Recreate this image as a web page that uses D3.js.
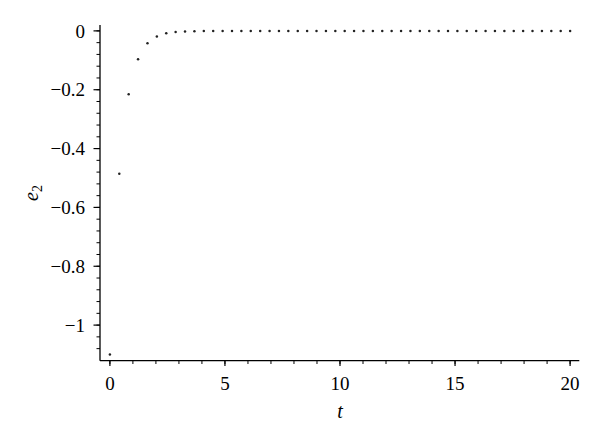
<!DOCTYPE html>
<html>
<head>
<meta charset="utf-8">
<script src="https://cdn.jsdelivr.net/npm/d3@7"></script>
<style>
  body { margin: 0; background: #fff; }
</style>
</head>
<body>
<div id="chart"></div>
<script>
// sampled time points (50 samples from 0 to 20)
var tValues = [0, 0.408, 0.816, 1.224, 1.633, 2.041, 2.449, 2.857, 3.265, 3.673,
  4.082, 4.490, 4.898, 5.306, 5.714, 6.122, 6.531, 6.939, 7.347, 7.755,
  8.163, 8.571, 8.980, 9.388, 9.796, 10.204, 10.612, 11.020, 11.429, 11.837,
  12.245, 12.653, 13.061, 13.469, 13.878, 14.286, 14.694, 15.102, 15.510, 15.918,
  16.327, 16.735, 17.143, 17.551, 17.959, 18.367, 18.776, 19.184, 19.592, 20.0];
// error e2 at each sample
var e2Values = [-1.10, -0.486, -0.215, -0.096, -0.042, -0.019, -0.008, -0.004, -0.002, -0.001,
  0, 0, 0, 0, 0, 0, 0, 0, 0, 0,
  0, 0, 0, 0, 0, 0, 0, 0, 0, 0,
  0, 0, 0, 0, 0, 0, 0, 0, 0, 0,
  0, 0, 0, 0, 0, 0, 0, 0, 0, 0];
var xTicks = [0, 5, 10, 15, 20];
var yTicks = [0, -0.2, -0.4, -0.6, -0.8, -1];
var xMinor = d3.range(0, 21, 1);
var yMinor = d3.range(0, 28).map(function (i) { return -i * 0.04; });

var serif = "'Liberation Serif', 'Times New Roman', Tinos, 'DejaVu Serif', serif";
var width = 600, height = 445;
var svg = d3.select("#chart").append("svg").attr("width", width).attr("height", height)
  .attr("font-family", serif);

var x_scale = d3.scaleLinear().domain([-0.43, 20.4]).range([100, 579.3]);
var y_scale = d3.scaleLinear().domain([-1.121, 0.02]).range([360.7, 25]);

// axes lines
svg.append("line").attr("x1", 100).attr("x2", 100)
  .attr("y1", y_scale(0.02)).attr("y2", y_scale(-1.121))
  .attr("stroke", "#000").attr("stroke-width", 1.3);
svg.append("line").attr("x1", x_scale(-0.43)).attr("x2", x_scale(20.4))
  .attr("y1", 360.7).attr("y2", 360.7)
  .attr("stroke", "#000").attr("stroke-width", 1.3);

// y ticks
svg.selectAll(".yminor").data(yMinor).enter().append("line")
  .attr("x1", 96.5).attr("x2", 100)
  .attr("y1", function (d) { return y_scale(d); })
  .attr("y2", function (d) { return y_scale(d); })
  .attr("stroke", "#000").attr("stroke-width", 1);
svg.selectAll(".ymajor").data(yTicks).enter().append("line")
  .attr("x1", 93.5).attr("x2", 100)
  .attr("y1", function (d) { return y_scale(d); })
  .attr("y2", function (d) { return y_scale(d); })
  .attr("stroke", "#000").attr("stroke-width", 1.2);
svg.selectAll(".ylab").data(yTicks).enter().append("text")
  .attr("x", 85)
  .attr("y", function (d) { return y_scale(d); })
  .attr("dy", "0.35em")
  .attr("text-anchor", "end")
  .style("font-family", serif)
  .style("font-size", "19px")
  .text(function (d) { return d === 0 ? "0" : "\u2212" + String(-d); });

// x ticks
svg.selectAll(".xminor").data(xMinor).enter().append("line")
  .attr("x1", function (d) { return x_scale(d); })
  .attr("x2", function (d) { return x_scale(d); })
  .attr("y1", 360.7).attr("y2", 364)
  .attr("stroke", "#000").attr("stroke-width", 1);
svg.selectAll(".xmajor").data(xTicks).enter().append("line")
  .attr("x1", function (d) { return x_scale(d); })
  .attr("x2", function (d) { return x_scale(d); })
  .attr("y1", 360.7).attr("y2", 366)
  .attr("stroke", "#000").attr("stroke-width", 1.2);
svg.selectAll(".xlab").data(xTicks).enter().append("text")
  .attr("x", function (d) { return x_scale(d); })
  .attr("y", 383)
  .attr("dy", "0.35em")
  .attr("text-anchor", "middle")
  .style("font-family", serif)
  .style("font-size", "19px")
  .text(function (d) { return d; });

// axis labels
svg.append("text")
  .attr("x", x_scale(10)).attr("y", 418)
  .attr("text-anchor", "middle")
  .style("font-family", serif)
  .style("font-size", "20px").style("font-style", "italic")
  .text("t");
var ylab = svg.append("text")
  .attr("transform", "translate(38,193)rotate(-90)")
  .attr("text-anchor", "middle")
  .style("font-family", serif)
  .style("font-size", "20px").style("font-style", "italic");
ylab.append("tspan").text("e");
ylab.append("tspan").attr("dy", 4).style("font-size", "14px").style("font-style", "normal").text("2");

// data points
svg.selectAll(".pt").data(tValues).enter().append("circle")
  .attr("cx", function (d) { return x_scale(d); })
  .attr("cy", function (d, i) { return y_scale(e2Values[i]); })
  .attr("r", 1.25)
  .attr("fill", "#222");
</script>
</body>
</html>
